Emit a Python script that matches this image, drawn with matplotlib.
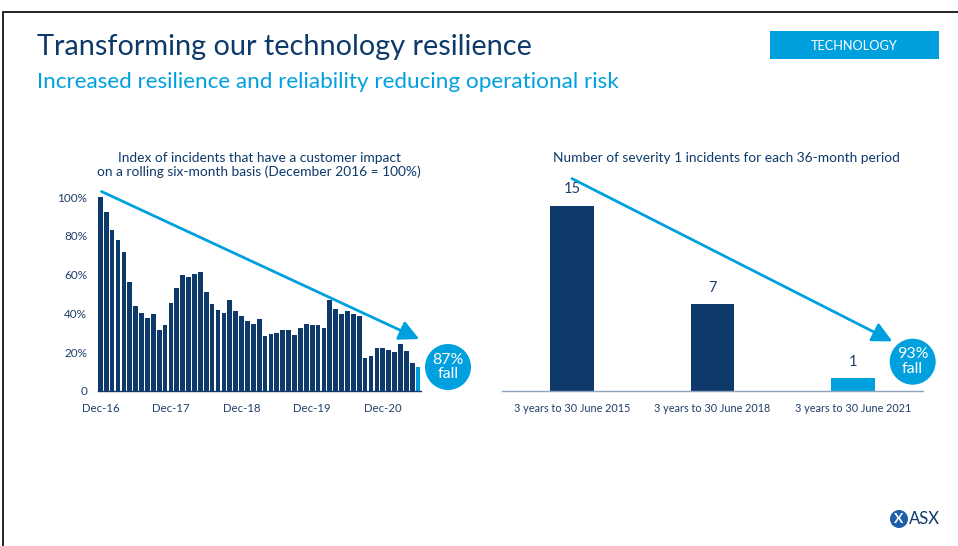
import matplotlib
matplotlib.use("Agg")
import matplotlib.pyplot as plt
from matplotlib.patches import Circle, Rectangle

NAVY = "#0d3a6a"
LIGHT = "#00a0df"
TEXT = "#1f3f6b"

# left chart: customer impact index, monthly Dec-16 .. Jun-21
index_values = [
    100, 92.6, 83.1, 77.9, 71.6, 56, 44, 40, 37.8, 39.5, 31.4, 34,
    45.3, 53, 59.7, 58.8, 60.3, 61.6, 50.9, 44.7, 41.6, 40, 46.7, 41.4,
    38.4, 36, 34.7, 37.2, 28.4, 29.1, 30, 31.4, 31.4, 28.6, 32.6, 34.7,
    34, 34, 32.6, 46.7, 42, 39.5, 41.4, 39.7, 38.6, 17, 17.8, 21.9,
    21.9, 21.2, 20, 24, 20.7, 14.5, 12.2,
]
month_ticks = [0, 12, 24, 36, 48]
month_labels = ["Dec-16", "Dec-17", "Dec-18", "Dec-19", "Dec-20"]
pct_ticks = [0, 20, 40, 60, 80, 100]
pct_labels = ["0", "20%", "40%", "60%", "80%", "100%"]

# right chart: severity 1 incidents per 36-month period
periods = ["3 years to 30 June 2015", "3 years to 30 June 2018", "3 years to 30 June 2021"]
sev1 = [15, 7, 1]

W, H = 958, 546
plt.rcParams["font.family"] = ["Lato", "DejaVu Sans"]


def fx(x):
    return x / W


def fy(y):
    return 1 - y / H


fig = plt.figure(figsize=(W / 100, H / 100), dpi=100)

# slide frame
fig.add_artist(Rectangle((fx(3), fy(560)), 1.2, fy(11.5) - fy(560), transform=fig.transFigure,
                         fill=False, edgecolor="black", linewidth=1.2))

fig.text(fx(37), fy(47), "Transforming our technology resilience", color=NAVY,
         fontsize=20.8, va="center", ha="left")
fig.text(fx(37), fy(82), "Increased resilience and reliability reducing operational risk",
         color=LIGHT, fontsize=16.2, va="center", ha="left")
fig.add_artist(Rectangle((fx(770), fy(59)), fx(939) - fx(770), fy(31) - fy(59),
                         transform=fig.transFigure, facecolor=LIGHT, edgecolor="none"))
fig.text(fx(854.5), fy(45.5), "TECHNOLOGY", color="white", fontsize=9.2, ha="center", va="center")

# ---- left chart
ax1 = fig.add_axes([fx(97.7), fy(390.7), fx(420.7) - fx(97.7), fy(197.3) - fy(390.7)])
colors = [NAVY] * (len(index_values) - 1) + [LIGHT]
ax1.bar(range(len(index_values)), index_values, width=0.8, color=colors)
ax1.set_xlim(-0.45, len(index_values) - 0.55)
ax1.set_ylim(0, 100)
ax1.set_xticks(month_ticks)
ax1.set_xticklabels(month_labels)
ax1.set_yticks(pct_ticks)
ax1.set_yticklabels(pct_labels)
for s in ["top", "right", "left"]:
    ax1.spines[s].set_visible(False)
ax1.spines["bottom"].set_color(NAVY)
ax1.spines["bottom"].set_linewidth(1.0)
ax1.tick_params(axis="x", length=0, labelsize=8.2, labelcolor=TEXT, pad=9)
ax1.tick_params(axis="y", length=0, labelsize=8.5, labelcolor=TEXT, pad=7.5)
ax1.annotate("", xy=(54.2, 26.7), xytext=(0.2, 103), annotation_clip=False,
             arrowprops=dict(arrowstyle="-|>,head_length=1.0,head_width=0.5", color=LIGHT,
                             lw=2, mutation_scale=12, shrinkA=0, shrinkB=0))
fig.text(fx(259), fy(165), "Index of incidents that have a customer impact\n"
         "on a rolling six-month basis (December 2016 = 100%)",
         color=NAVY, fontsize=9.9, ha="center", va="center", linespacing=1.15)

# ---- right chart
ax2 = fig.add_axes([fx(501.7), fy(390.7), fx(923.3) - fx(501.7), fy(193.4) - fy(390.7)])
ax2.bar(range(len(sev1)), sev1, width=0.31, color=[NAVY, NAVY, LIGHT])
ax2.set_xlim(-0.5, 2.5)
ax2.set_ylim(0, 16)
ax2.set_xticks(range(len(periods)))
ax2.set_xticklabels(periods)
ax2.set_yticks([])
for s in ["top", "right", "left"]:
    ax2.spines[s].set_visible(False)
ax2.spines["bottom"].set_color("#8ea3bd")
ax2.spines["bottom"].set_linewidth(1.0)
ax2.tick_params(length=0, labelsize=7.8, labelcolor=TEXT, pad=9)
for i, v in enumerate(sev1):
    ax2.annotate(str(v), (i, v), xytext=(0, 7), textcoords="offset points",
                 ha="center", va="bottom", fontsize=10.5, color=TEXT)
ax2.annotate("", xy=(2.28, 4.0), xytext=(0.0, 17.2), annotation_clip=False,
             arrowprops=dict(arrowstyle="-|>,head_length=1.0,head_width=0.5", color=LIGHT,
                             lw=2, mutation_scale=12, shrinkA=0, shrinkB=0))
fig.text(fx(726), fy(158), "Number of severity 1 incidents for each 36-month period",
         color=NAVY, fontsize=9.9, ha="center", va="center")

# "fall" badges
for cx, cy, label in [(448, 367, "87%\nfall"), (912.7, 361.7, "93%\nfall")]:
    fig.add_artist(Circle((cx / 100, (H - cy) / 100), 0.23, transform=fig.dpi_scale_trans,
                          facecolor=LIGHT, edgecolor="none"))
    fig.text(fx(cx), fy(cy), label, color="white", fontsize=11.5, ha="center", va="center",
             linespacing=1.05)

# ASX logo
fig.add_artist(Circle((899 / 100, (H - 519) / 100), 0.09, transform=fig.dpi_scale_trans,
                      facecolor="#1d5fa8", edgecolor="none"))
fig.text(fx(899), fy(519), "X", color="white", fontsize=10, fontweight="bold",
         ha="center", va="center")
fig.text(fx(909), fy(519), "ASX", color=NAVY, fontsize=12, ha="left", va="center")

fig.savefig("out.png", dpi=100)
